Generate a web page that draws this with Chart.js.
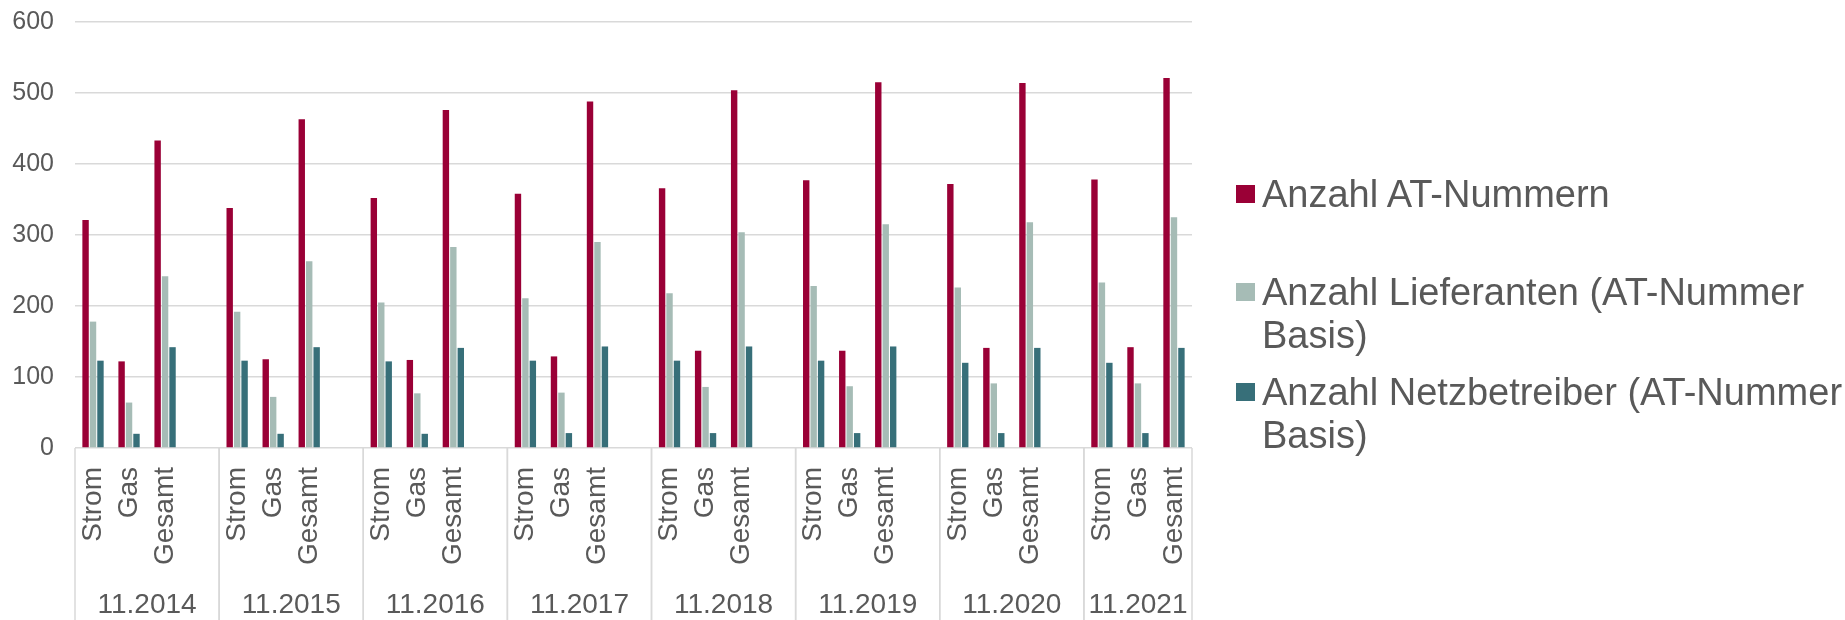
<!DOCTYPE html>
<html lang="de">
<head>
<meta charset="utf-8">
<title>AT-Nummern</title>
<script src="https://cdn.jsdelivr.net/npm/chart.js@4.4.1/dist/chart.umd.min.js"></script>
<style>
  html, body { margin: 0; padding: 0; background: #fff; overflow: hidden; }
  #wrap { position: relative; width: 1845px; height: 620px; font-family: 'Liberation Sans', Arial, sans-serif; }
  #chart { position: absolute; left: 0; top: 0; }
  #legend { position: absolute; left: 1236px; top: 0; color: #595959; font-size: 38px; line-height: 43px; }
  .item { position: absolute; left: 0; display: flex; align-items: flex-start; }
  .item:nth-child(1) { top: 173px; }
  .item:nth-child(2) { top: 271px; }
  .item:nth-child(3) { top: 371px; }
  .box { width: 19px; height: 18px; margin-top: 12px; margin-right: 7px; flex: none; }
  .text { width: 600px; }
</style>
</head>
<body>
<div id="wrap">
  <canvas id="chart" width="1845" height="620"></canvas>
  <div id="legend"></div>
</div>
<script>
const years = ['11.2014', '11.2015', '11.2016', '11.2017', '11.2018', '11.2019', '11.2020', '11.2021'];
const subLabels = ['Strom', 'Gas', 'Gesamt'];
const yTicks = [0, 100, 200, 300, 400, 500, 600];

// one empty slot between the years (none after the last one)
const atNummern  = [321, 122, 433, null, 338, 125, 463, null, 352, 124, 476, null, 358, 129, 488, null,
                    366, 137, 504, null, 377, 137, 515, null, 372, 141, 514, null, 378, 142, 521];
const lieferanten = [178, 64, 242, null, 192, 72, 263, null, 205, 77, 283, null, 211, 78, 290, null,
                     218, 86, 304, null, 228, 87, 315, null, 226, 91, 318, null, 233, 91, 325];
const netzbetreiber = [123, 20, 142, null, 123, 20, 142, null, 122, 20, 141, null, 123, 21, 143, null,
                       123, 21, 143, null, 123, 21, 143, null, 120, 21, 141, null, 120, 21, 141];

const labels = [];
years.forEach((y, i) => {
    labels.push(...subLabels);
    if (i < years.length - 1) labels.push('');
});

const FONT = "'Liberation Sans', Arial, sans-serif";
const TEXT = '#595959';
const GRID = '#d9d9d9';

const yearGroups = {
    id: 'yearGroups',
    afterDraw(chart) {
        const ctx = chart.ctx;
        const x = chart.scales.x;
        const bottom = chart.chartArea.bottom;
        ctx.save();
        ctx.strokeStyle = GRID;
        ctx.lineWidth = 1.5;
        ctx.fillStyle = TEXT;
        ctx.font = '28px ' + FONT;
        ctx.textAlign = 'center';
        ctx.textBaseline = 'middle';
        let start = 0;
        years.forEach((year, i) => {
            const n = i < years.length - 1 ? subLabels.length + 1 : subLabels.length;
            const left = x.getPixelForValue(start - 0.5);
            const right = x.getPixelForValue(start + n - 0.5);
            [left, right].forEach(px => {
                ctx.beginPath();
                ctx.moveTo(px, bottom);
                ctx.lineTo(px, chart.height);
                ctx.stroke();
            });
            ctx.fillText(year, (left + right) / 2, chart.height - 15);
            start += n;
        });
        ctx.restore();
    }
};

const chart = new Chart(document.getElementById('chart'), {
    type: 'bar',
    data: {
        labels: labels,
        datasets: [
            { label: 'Anzahl AT-Nummern', data: atNummern, backgroundColor: '#9a0036' },
            { label: 'Anzahl Lieferanten (AT-Nummer Basis)', data: lieferanten, backgroundColor: '#a6bcb6' },
            { label: 'Anzahl Netzbetreiber (AT-Nummer Basis)', data: netzbetreiber, backgroundColor: '#376f79' }
        ]
    },
    options: {
        responsive: false,
        animation: false,
        devicePixelRatio: 1,
        datasets: { bar: { categoryPercentage: 0.62, barPercentage: 0.86 } },
        layout: { padding: { top: 22, right: 653, bottom: 0, left: 0 } },
        plugins: { legend: { display: false }, tooltip: { enabled: false } },
        scales: {
            x: {
                grid: { display: false, drawTicks: false },
                border: { display: false },
                ticks: {
                    autoSkip: false, minRotation: 90, maxRotation: 90, padding: 19,
                    color: TEXT, font: { family: FONT, size: 28 }
                },
                afterFit: s => { s.height = 172; }
            },
            y: {
                min: 0, max: 600,
                afterBuildTicks: s => { s.ticks = yTicks.map(v => ({ value: v })); },
                grid: { color: GRID, lineWidth: 1.5, drawTicks: false },
                border: { display: false },
                ticks: { padding: 21, color: TEXT, font: { family: FONT, size: 25 } },
                afterFit: s => { s.width = 75; s.paddingTop = 0; s.paddingBottom = 0; }
            }
        }
    },
    plugins: [yearGroups]
});

const legend = document.getElementById('legend');
chart.data.datasets.forEach(ds => {
    const item = document.createElement('div');
    item.className = 'item';
    item.innerHTML = `<span class="box" style="background:${ds.backgroundColor}"></span><span class="text">${ds.label}</span>`;
    legend.appendChild(item);
});
</script>
</body>
</html>
